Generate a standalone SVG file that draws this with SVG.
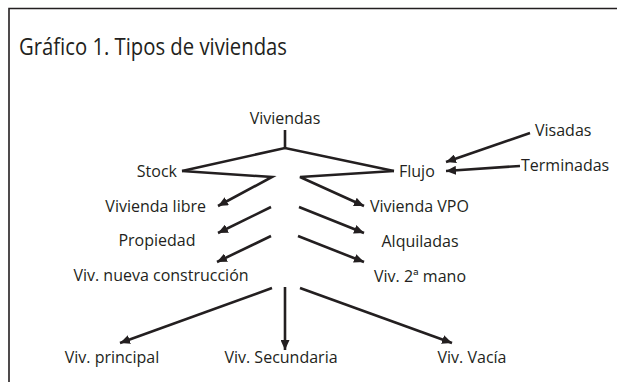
<svg xmlns="http://www.w3.org/2000/svg" width="617" height="382" viewBox="0 0 617 382">
<defs>
<style>
text{font-family:"Open Sans","Noto Sans","DejaVu Sans",sans-serif;fill:#231f20}
.lbl{font-size:16px}
.title{font-size:24.5px}
.c{text-anchor:middle}
.e{text-anchor:end}
.ln{fill:none;stroke:#231f20;stroke-width:2.6;stroke-linejoin:miter}
.ar{marker-end:url(#ah)}
</style>
<marker id="ah" markerUnits="userSpaceOnUse" markerWidth="11" markerHeight="9" refX="10" refY="4.5" orient="auto">
<path d="M0,0 L10,4.5 L0,9 z" fill="#231f20"/>
</marker>
</defs>
<rect width="617" height="382" fill="#fff"/>
<path d="M9,382 V8.5 H617" fill="none" stroke="#231f20" stroke-width="1.6"/>
<text class="title" x="19" y="55" textLength="268" lengthAdjust="spacingAndGlyphs">Gráfico 1. Tipos de viviendas</text>
<g id="connectors">
<path class="ln" d="M285,130 V148"/>
<path class="ln" d="M182,171 L285,148 L394,171"/>
<path class="ln ar" d="M182,171 L272,177 L218,206"/>
<path class="ln ar" d="M394,171 L300,177 L364,206"/>
<path class="ln ar" d="M271,207 L218,233"/>
<path class="ln ar" d="M299,207 L364,233"/>
<path class="ln ar" d="M271,236 L217,262"/>
<path class="ln ar" d="M298,236 L364,262"/>
<path class="ln ar" d="M272,288 L120,343"/>
<path class="ln ar" d="M285,287 L285,350"/>
<path class="ln ar" d="M300,288 L452,343"/>
<path class="ln ar" d="M530,133 L446,162"/>
<path class="ln ar" d="M520,166 L446,171"/>
</g>
<g id="n-viviendas"><text class="lbl c" x="285" y="124">Viviendas</text></g>
<g id="n-stock"><text class="lbl e" x="177" y="177">Stock</text></g>
<g id="n-flujo"><text class="lbl" x="399" y="177">Flujo</text></g>
<g id="n-visadas"><text class="lbl" x="535" y="136">Visadas</text></g>
<g id="n-terminadas"><text class="lbl" x="521" y="171">Terminadas</text></g>
<g id="n-libre"><text class="lbl e" x="206" y="212">Vivienda libre</text></g>
<g id="n-vpo"><text class="lbl" x="370" y="212">Vivienda VPO</text></g>
<g id="n-propiedad"><text class="lbl c" x="157" y="246">Propiedad</text></g>
<g id="n-alquiladas"><text class="lbl c" x="420" y="247">Alquiladas</text></g>
<g id="n-nueva"><text class="lbl c" x="161" y="281">Viv. nueva construcción</text></g>
<g id="n-segunda"><text class="lbl c" x="420" y="282">Viv. 2ª mano</text></g>
<g id="n-principal"><text class="lbl c" x="112" y="363">Viv. principal</text></g>
<g id="n-secundaria"><text class="lbl c" x="281" y="363">Viv. Secundaria</text></g>
<g id="n-vacia"><text class="lbl c" x="472" y="363">Viv. Vacía</text></g>
</svg>
